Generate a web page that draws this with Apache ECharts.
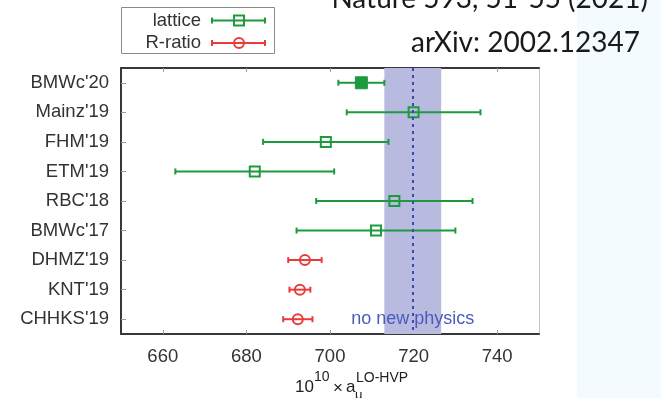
<!DOCTYPE html>
<html>
<head>
<meta charset="utf-8">
<script src="https://cdn.jsdelivr.net/npm/echarts@6/dist/echarts.min.js"></script>
<style>
  html, body { margin: 0; padding: 0; background: #ffffff; }
  #chart { width: 661px; height: 398px; }
</style>
</head>
<body>
<div id="chart"></div>
<script>
// Determinations of the leading-order hadronic vacuum polarisation contribution
const categories = ["BMWc'20", "Mainz'19", "FHM'19", "ETM'19", "RBC'18", "BMWc'17", "DHMZ'19", "KNT'19", "CHHKS'19"];

// lattice QCD results: central value and symmetric uncertainty
const latticeNames = ["BMWc'20", "Mainz'19", "FHM'19", "ETM'19", "RBC'18", "BMWc'17"];
const latticeValues = [707.5, 720.0, 699.0, 682.0, 715.4, 711.0];
const latticeErrors = [5.5, 16.0, 15.0, 19.0, 18.7, 19.0];
const filledNames = ["BMWc'20"];

// data-driven (R-ratio) results
const rratioNames = ["DHMZ'19", "KNT'19", "CHHKS'19"];
const rratioValues = [694.0, 692.8, 692.3];
const rratioErrors = [4.0, 2.5, 3.5];

// value needed for agreement with the measured g-2, and its band
const noNewPhysicsValue = 719.8;
const noNewPhysicsBand = [713.0, 726.6];

const xTicks = [660, 680, 700, 720, 740];
const xMin = 650, xMax = 750;

const GREEN = '#1e9a3e';
const RED = '#ea3b3b';
const FRAME = '#383838';
const TICK = '#9a9a9a';
const LABEL_FONT = '"Liberation Sans", Arial, Helvetica, sans-serif';
const TITLE_FONT = 'Lato, "Open Sans", sans-serif';

function buildRows(names, values, errors) {
  return names.map(function (n, i) {
    return [categories.indexOf(n), values[i], values[i] - errors[i], values[i] + errors[i], filledNames.indexOf(n) >= 0 ? 1 : 0];
  });
}

function errorBarRenderer(color, marker) {
  return function (params, api) {
    const idx = api.value(0);
    const mid = api.coord([api.value(1), idx]);
    const lo = api.coord([api.value(2), idx]);
    const hi = api.coord([api.value(3), idx]);
    const filled = api.value(4) === 1;
    const lw = 2;
    const cap = 3;
    const stroke = { stroke: color, lineWidth: lw, fill: null };
    const children = [
      { type: 'line', shape: { x1: lo[0], y1: lo[1], x2: hi[0], y2: hi[1] }, style: stroke },
      { type: 'line', shape: { x1: lo[0], y1: lo[1] - cap, x2: lo[0], y2: lo[1] + cap }, style: stroke },
      { type: 'line', shape: { x1: hi[0], y1: hi[1] - cap, x2: hi[0], y2: hi[1] + cap }, style: stroke }
    ];
    if (marker === 'square') {
      if (filled) {
        children.push({ type: 'rect', shape: { x: mid[0] - 6, y: mid[1] - 6, width: 12, height: 12 }, style: { fill: color, stroke: color, lineWidth: 1 } });
      } else {
        children.push({ type: 'rect', shape: { x: mid[0] - 5, y: mid[1] - 5, width: 10, height: 10 }, style: stroke });
      }
    } else {
      children.push({ type: 'circle', shape: { cx: mid[0], cy: mid[1], r: 5 }, style: stroke });
    }
    return { type: 'group', children: children };
  };
}

const chart = echarts.init(document.getElementById('chart'), null, { renderer: 'canvas' });

// legend key: an error bar with its marker
const legendX = 212, legendX2 = 265;
function legendSample(y, color, marker) {
  const s = { stroke: color, lineWidth: 2, fill: null };
  const mx = (legendX + legendX2) / 2 + 0.5;
  const items = [
    { type: 'line', z: 7, shape: { x1: legendX, y1: y, x2: legendX2, y2: y }, style: s },
    { type: 'line', z: 7, shape: { x1: legendX, y1: y - 3, x2: legendX, y2: y + 3 }, style: s },
    { type: 'line', z: 7, shape: { x1: legendX2, y1: y - 3, x2: legendX2, y2: y + 3 }, style: s }
  ];
  if (marker === 'square') {
    items.push({ type: 'rect', z: 7, shape: { x: mx - 5, y: y - 5, width: 10, height: 10 }, style: s });
  } else {
    items.push({ type: 'circle', z: 7, shape: { cx: mx, cy: y, r: 5 }, style: s });
  }
  return items;
}

const option = {
  animation: false,
  backgroundColor: '#ffffff',
  grid: { left: 121, top: 68, width: 418, height: 266, containLabel: false },
  xAxis: [
    {
      type: 'value', min: xMin, max: xMax, position: 'bottom',
      axisLine: { show: true, lineStyle: { color: FRAME, width: 2 } },
      axisTick: { show: true, inside: true, length: 4, customValues: xTicks, lineStyle: { color: TICK, width: 1 } },
      axisLabel: { customValues: xTicks, fontSize: 18.5, fontFamily: LABEL_FONT, color: '#333333', margin: 13 },
      splitLine: { show: false }
    },
    {
      type: 'value', min: xMin, max: xMax, position: 'top',
      axisLine: { show: true, lineStyle: { color: FRAME, width: 2 } },
      axisTick: { show: true, inside: true, length: 4, customValues: xTicks, lineStyle: { color: TICK, width: 1 } },
      axisLabel: { show: false },
      splitLine: { show: false }
    }
  ],
  yAxis: [
    {
      type: 'category', data: categories, inverse: true, position: 'left',
      axisLine: { show: true, lineStyle: { color: FRAME, width: 2 } },
      axisTick: { show: true, inside: true, alignWithLabel: true, length: 5, lineStyle: { color: TICK, width: 1 } },
      axisLabel: { fontSize: 18.5, fontFamily: LABEL_FONT, color: '#333333', margin: 12 },
      splitLine: { show: false }
    },
    {
      type: 'category', data: categories, inverse: true, position: 'right',
      axisLine: { show: true, lineStyle: { color: '#c4c4c4', width: 1 } },
      axisTick: { show: false },
      axisLabel: { show: false },
      splitLine: { show: false }
    }
  ],
  series: [
    {
      name: 'no new physics',
      type: 'line',
      data: [],
      z: 1,
      silent: true,
      markArea: {
        silent: true,
        itemStyle: { color: '#b9badf', opacity: 1 },
        data: [[{ xAxis: noNewPhysicsBand[0] }, { xAxis: noNewPhysicsBand[1] }]]
      },
      markLine: {
        silent: true,
        symbol: 'none',
        label: { show: false },
        lineStyle: { color: '#3a4bb8', width: 2, type: [3, 4] },
        data: [{ xAxis: noNewPhysicsValue }]
      },
      markPoint: {
        silent: true,
        symbol: 'rect',
        symbolSize: 1,
        itemStyle: { color: 'rgba(0,0,0,0)' },
        label: {
          show: true, position: 'inside', offset: [0, 0],
          formatter: 'no new physics', fontSize: 18, fontFamily: LABEL_FONT, color: '#4a5bbd'
        },
        data: [{ coord: [noNewPhysicsValue, categories.indexOf("CHHKS'19")] }]
      }
    },
    {
      name: 'lattice',
      type: 'custom',
      z: 3,
      renderItem: errorBarRenderer(GREEN, 'square'),
      encode: { x: [1, 2, 3], y: 0 },
      data: buildRows(latticeNames, latticeValues, latticeErrors)
    },
    {
      name: 'R-ratio',
      type: 'custom',
      z: 3,
      renderItem: errorBarRenderer(RED, 'circle'),
      encode: { x: [1, 2, 3], y: 0 },
      data: buildRows(rratioNames, rratioValues, rratioErrors)
    }
  ],
  graphic: {
    elements: [
      // pale strip on the right-hand side
      { type: 'rect', z: -10, left: 577, top: 0, shape: { width: 84, height: 398 }, style: { fill: '#f4fbfe' } },
      // citation
      { type: 'text', z: 5, right: 13, top: -15, style: { text: 'Nature 593, 51-55 (2021)', font: '28px ' + TITLE_FONT, fill: '#1a1a1a' } },
      { type: 'text', z: 5, right: 21, top: 29, style: { text: 'arXiv: 2002.12347', font: '28px ' + TITLE_FONT, fill: '#1a1a1a' } },
      // legend box
      { type: 'rect', z: 5, shape: { x: 121.5, y: 7.5, width: 153, height: 46 }, style: { fill: '#ffffff', stroke: '#8a8a8a', lineWidth: 1 } },
      { type: 'text', z: 6, x: 201, y: 20.5, style: { text: 'lattice', font: '18.5px ' + LABEL_FONT, fill: '#333333', align: 'right', verticalAlign: 'middle' } },
      { type: 'text', z: 6, x: 201, y: 43, style: { text: 'R-ratio', font: '18.5px ' + LABEL_FONT, fill: '#333333', align: 'right', verticalAlign: 'middle' } }
    ]
      .concat(legendSample(20.5, GREEN, 'square'))
      .concat(legendSample(43, RED, 'circle'))
      .concat([
        // axis title: 10^10 x a_mu^(LO-HVP)
        { type: 'text', z: 5, x: 295, y: 387, style: { text: '10', font: '17px ' + LABEL_FONT, fill: '#222222', verticalAlign: 'middle' } },
        { type: 'text', z: 5, x: 314, y: 377, style: { text: '10', font: '14px ' + LABEL_FONT, fill: '#222222', verticalAlign: 'middle' } },
        { type: 'text', z: 5, x: 333, y: 388, style: { text: '\u00d7', font: '17px ' + LABEL_FONT, fill: '#222222', verticalAlign: 'middle' } },
        { type: 'text', z: 5, x: 346, y: 387, style: { text: 'a', font: '17px ' + LABEL_FONT, fill: '#222222', verticalAlign: 'middle' } },
        { type: 'text', z: 5, x: 355, y: 395, style: { text: '\u03bc', font: '13px ' + LABEL_FONT, fill: '#222222', verticalAlign: 'middle' } },
        { type: 'text', z: 5, x: 356, y: 378, style: { text: 'LO-HVP', font: '14px ' + LABEL_FONT, fill: '#222222', verticalAlign: 'middle' } }
      ])
  }
};

chart.setOption(option);
</script>
</body>
</html>
